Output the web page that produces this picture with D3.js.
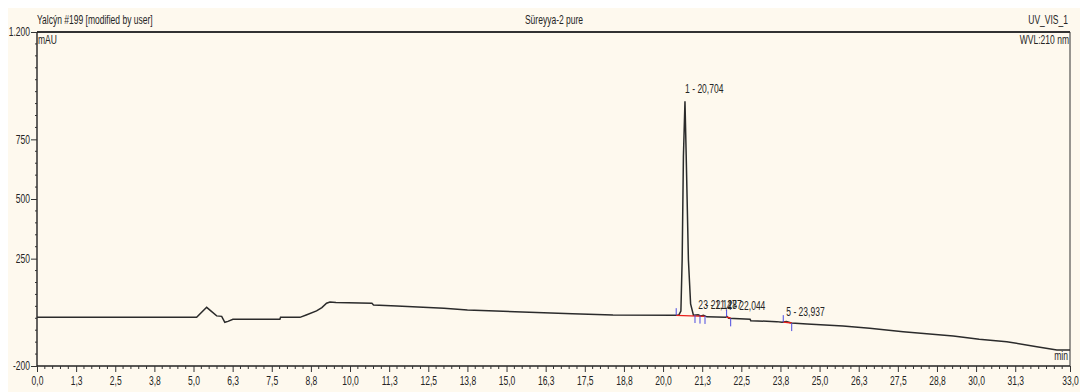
<!DOCTYPE html>
<html>
<head>
<meta charset="utf-8">
<script src="https://cdnjs.cloudflare.com/ajax/libs/d3/7.8.5/d3.min.js"></script>
<style>
  html, body { margin: 0; padding: 0; background: #ffffff; }
  svg { display: block; }
  text { font-family: "Liberation Sans", Arial, sans-serif; fill: #252525; }
</style>
</head>
<body>
<svg id="chart" width="1080" height="392"></svg>
<script>
// Chromatogram trace: retention time (min) and detector signal (mAU)
const times = [0, 5.10, 5.42, 5.74, 5.90, 6.00, 6.10, 6.26, 7.76, 7.78, 8.40, 8.60, 8.93, 9.10, 9.25, 9.36, 9.55,
  10.70, 10.75, 11.50, 13.00, 13.75, 15.50, 17.10, 18.40, 20.38, 20.50,
  20.57, 20.61, 20.65, 20.70, 20.74, 20.81, 20.88, 20.97,
  21.12, 21.20, 21.29, 21.40, 22.00, 22.04, 22.10, 22.78, 22.80, 23.63, 23.80, 23.94, 24.10,
  24.60, 25.75, 26.60, 27.67, 29.27, 30.10, 30.98, 31.94, 32.58, 33.00];
const signal = [4, 4, 46, 10, 8, -17, -13, -4, -4, 4, 4, 14, 31, 45, 63, 68, 66,
  63, 56, 52, 42, 35, 26, 19, 14, 13, 13,
  30, 244, 676, 910, 676, 244, 60, 13,
  15, 10, 13, 6, 4, 8, 0, -4, -10, -14, -17, -14, -20,
  -24, -32, -42, -56, -74, -88, -98, -119, -133, -133];

// Integrated peaks: number, retention time, apex signal
const peakNums = [1, 2, 3, 4, 5];
const peakTimes = [20.704, 21.127, 21.287, 22.044, 23.937];
const peakApex = [910, 15, 13, 8, -14];

// Integration baselines (start/end time and signal)
const baseStart = [20.42, 22.03, 23.84];
const baseEnd = [21.34, 22.16, 24.11];
const baseStartVal = [12, 5, -16];
const baseEndVal = [8, 1, -20];

// Peak delimiters: time and whether the marker points up (start) or down (end)
const delimTimes = [20.42, 21.02, 21.18, 21.34, 22.03, 22.16, 23.84, 24.11];
const delimUp = [true, false, false, false, true, false, true, false];

// Axis ticks
const xMajor = [0, 1.25, 2.5, 3.75, 5, 6.25, 7.5, 8.75, 10, 11.25, 12.5, 13.75, 15, 16.25, 17.5, 18.75,
  20, 21.25, 22.5, 23.75, 25, 26.25, 27.5, 28.75, 30, 31.25, 33];
const xMajorLabels = ["0,0", "1,3", "2,5", "3,8", "5,0", "6,3", "7,5", "8,8", "10,0", "11,3", "12,5", "13,8",
  "15,0", "16,3", "17,5", "18,8", "20,0", "21,3", "22,5", "23,8", "25,0", "26,3", "27,5", "28,8", "30,0", "31,3", "33,0"];
const yMajor = [-200, 250, 500, 750, 1200];
const yMajorLabels = ["-200", "250", "500", "750", "1.200"];

const svg = d3.select("#chart");
const W = 1080, H = 392;
const mLeft = 37, mRight = 1070, mTop = 32, mBottom = 366;
const FS = "12px";      // font size
const NARROW = 0.71;    // horizontal squeeze for a condensed look

svg.append("rect").attr("x", 8).attr("y", 8).attr("width", W - 8).attr("height", H - 8).attr("fill", "#fef9ee");

const x = d3.scaleLinear().domain([0, 33]).range([mLeft, mRight]);
const y = d3.scaleLinear().domain([-200, 1200]).range([mBottom, mTop]);

// Frame: heavy top rule and right edge
svg.append("line").attr("x1", mLeft).attr("x2", mRight).attr("y1", mTop).attr("y2", mTop)
  .attr("stroke", "#333").attr("stroke-width", 2);
svg.append("line").attr("x1", mRight).attr("x2", mRight).attr("y1", mTop).attr("y2", mBottom)
  .attr("stroke", "#333").attr("stroke-width", 1);

// X axis with minor ticks every 0.25 min
const xMinor = d3.range(0, 33.001, 0.25).filter(t => !xMajor.some(m => Math.abs(m - t) < 1e-6));
const xAxisG = svg.append("g").attr("transform", `translate(0,${mBottom})`);
xAxisG.call(d3.axisBottom(x).tickValues(xMajor).tickSize(6)
  .tickFormat((d, i) => xMajorLabels[i]).tickPadding(5));
xAxisG.selectAll(".minor").data(xMinor).join("line").attr("class", "minor")
  .attr("x1", d => x(d)).attr("x2", d => x(d)).attr("y1", 0).attr("y2", 3)
  .attr("stroke", "#333");

// Y axis with minor ticks every 50 mAU
const yMinor = d3.range(-200, 1201, 50).filter(v => !yMajor.includes(v));
const yAxisG = svg.append("g").attr("transform", `translate(${mLeft},0)`);
yAxisG.call(d3.axisLeft(y).tickValues(yMajor).tickSize(6)
  .tickFormat((d, i) => yMajorLabels[i]).tickPadding(1));
yAxisG.selectAll(".minor").data(yMinor).join("line").attr("class", "minor")
  .attr("x1", -2).attr("x2", 0).attr("y1", d => y(d)).attr("y2", d => y(d))
  .attr("stroke", "#333");

[xAxisG, yAxisG].forEach(g => {
  g.select(".domain").attr("stroke", "#222").attr("stroke-width", 1.4);
  g.selectAll(".tick line").attr("stroke", "#333");
  g.selectAll(".tick text").style("font-size", FS).attr("fill", "#252525")
    .style("font-family", '"Liberation Sans", Arial, sans-serif')
    .attr("transform", `scale(${NARROW},1)`);
});
yAxisG.selectAll(".tick text").attr("x", -7 / NARROW);
xAxisG.selectAll(".tick text").attr("y", 10);
yAxisG.select(".domain").attr("d", `M0,${mTop}V${mBottom}`);
xAxisG.select(".domain").attr("d", `M${mLeft},0H${mRight}`);

// Signal trace
const pts = times.map((t, i) => [t, signal[i]]);
svg.append("path").datum(pts)
  .attr("d", d3.line().x(d => x(d[0])).y(d => y(d[1])))
  .attr("fill", "none").attr("stroke", "#2b2b2b").attr("stroke-width", 1.5);

// Integration baselines
baseStart.forEach((t, i) => {
  svg.append("line").attr("x1", x(t)).attr("x2", x(baseEnd[i]))
    .attr("y1", y(baseStartVal[i])).attr("y2", y(baseEndVal[i]))
    .attr("stroke", "#e8201c").attr("stroke-width", 1.4);
});

// Peak delimiter markers
const interp = d3.scaleLinear().domain(times).range(signal);
delimTimes.forEach((t, i) => {
  const yy = y(interp(t));
  svg.append("line").attr("x1", x(t)).attr("x2", x(t))
    .attr("y1", delimUp[i] ? yy - 7 : yy).attr("y2", delimUp[i] ? yy : yy + 8)
    .attr("stroke", "#4a4ae0").attr("stroke-width", 1);
});

// Condensed text helper
const txt = (s, xx, yy, anchor) => svg.append("text")
  .attr("transform", `translate(${xx},${yy}) scale(${NARROW},1)`)
  .attr("text-anchor", anchor).style("font-size", FS).text(s);

// Peak labels
peakNums.forEach((n, i) => {
  const label = `${n} - ${peakTimes[i].toFixed(3).replace(".", ",")}`;
  txt(label, x(peakTimes[i]), y(peakApex[i]) - (i === 0 ? 8 : 6), "start");
});

// Header and axis captions
txt("Yalcýn #199 [modified by user]", 37, 24, "start");
txt("Süreyya-2 pure", 554, 24, "middle");
txt("UV_VIS_1", 1068, 24, "end");
txt("mAU", 38, 44, "start");
txt("WVL:210 nm", 1069, 44, "end");
txt("min", 1068, 360, "end");
</script>
</body>
</html>
